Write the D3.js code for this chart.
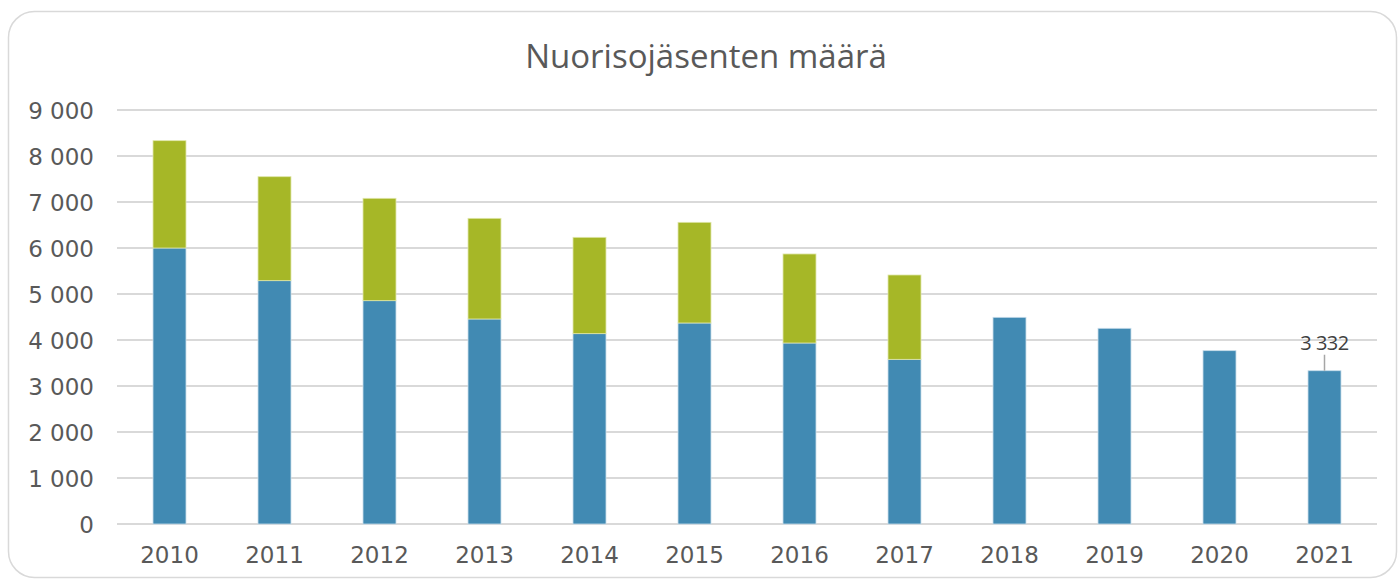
<!DOCTYPE html>
<meta charset="utf-8">
<style>
body { margin: 0; padding: 0; background: #fff; }
svg { display: block; }
.tick text { font-family: "DejaVu Sans", sans-serif; fill: #595959; }
</style>
<body>
<svg id="chart" width="1400" height="580"></svg>
<script src="https://cdn.jsdelivr.net/npm/d3@7"></script>
<script>

// vuodet ja jäsenmäärät
var years = ["2010", "2011", "2012", "2013", "2014", "2015", "2016", "2017", "2018", "2019", "2020", "2021"];
var blueVals = [6000, 5290, 4855, 4457, 4138, 4370, 3935, 3580, 4493, 4254, 3768, 3332];
var greenVals = [2333, 2260, 2225, 2188, 2094, 2188, 1935, 1833, 0, 0, 0, 0];
var yTicks = [0, 1000, 2000, 3000, 4000, 5000, 6000, 7000, 8000, 9000];
var labelYear = "2021";
var labelValue = 3332;

var blue = "#418ab3", green = "#a6b727";

var svg = d3.select("#chart");

// kehys
svg.append("rect")
  .attr("x", 8.5).attr("y", 11.5)
  .attr("width", 1388).attr("height", 566)
  .attr("rx", 26).attr("ry", 26)
  .attr("fill", "none")
  .attr("stroke", "#d9d9d9")
  .attr("stroke-width", 1.5);

svg.append("text")
  .attr("x", 706).attr("y", 68)
  .attr("text-anchor", "middle")
  .attr("font-family", "'Open Sans', sans-serif")
  .attr("font-size", 33)
  .attr("fill", "#595959")
  .text("Nuorisojäsenten määrä");

var x = d3.scaleBand()
  .domain(years)
  .range([117, 1377])
  .paddingInner(0.686)
  .paddingOuter(0.343);

var y = d3.scaleLinear().domain([0, 9000]).range([524, 110]);

var fmt = function(d) { return d3.format(",")(d).replace(/,/g, " "); };

// gridlines
svg.append("g")
  .selectAll("line")
  .data(yTicks)
  .join("line")
  .attr("x1", 117).attr("x2", 1377)
  .attr("y1", d => y(d)).attr("y2", d => y(d))
  .attr("stroke", "#d9d9d9")
  .attr("stroke-width", 2);

var yAxis = svg.append("g")
  .attr("transform", "translate(94,0)")
  .call(d3.axisLeft(y).tickValues(yTicks).tickFormat(fmt).tickSize(0).tickPadding(0));
yAxis.select(".domain").remove();
yAxis.selectAll("text").attr("font-size", 23).attr("dy", "0.36em");

var xAxis = svg.append("g")
  .attr("transform", "translate(0,524)")
  .call(d3.axisBottom(x).tickSize(0).tickPadding(23));
xAxis.select(".domain").remove();
xAxis.selectAll("text").attr("font-size", 23).attr("dy", "0.71em");

var rows = years.map((yr, i) => ({ year: yr, b: blueVals[i], g: greenVals[i] }));

svg.append("g").selectAll("rect")
  .data(rows)
  .join("rect")
  .attr("x", d => x(d.year))
  .attr("width", x.bandwidth())
  .attr("y", d => y(d.b))
  .attr("height", d => y(0) - y(d.b))
  .attr("fill", blue)
  .attr("stroke", "#c6dcea")
  .attr("stroke-width", 0.8);

svg.append("g").selectAll("rect")
  .data(rows.filter(d => d.g > 0))
  .join("rect")
  .attr("x", d => x(d.year))
  .attr("width", x.bandwidth())
  .attr("y", d => y(d.b + d.g))
  .attr("height", d => y(d.b) - y(d.b + d.g))
  .attr("fill", green)
  .attr("stroke", "#dfe6a8")
  .attr("stroke-width", 0.8);

// arvon nimiö ja viiva
var cx = x(labelYear) + x.bandwidth() / 2;
svg.append("line")
  .attr("x1", cx).attr("x2", cx)
  .attr("y1", y(labelValue) - 16).attr("y2", y(labelValue))
  .attr("stroke", "#a6a6a6")
  .attr("stroke-width", 1.5);
svg.append("text")
  .attr("x", cx).attr("y", y(labelValue) - 21)
  .attr("text-anchor", "middle")
  .attr("font-family", "'Open Sans', sans-serif")
  .attr("font-size", 20)
  .attr("letter-spacing", -0.5)
  .attr("fill", "#404040")
  .text(fmt(labelValue));

</script>
</body>
